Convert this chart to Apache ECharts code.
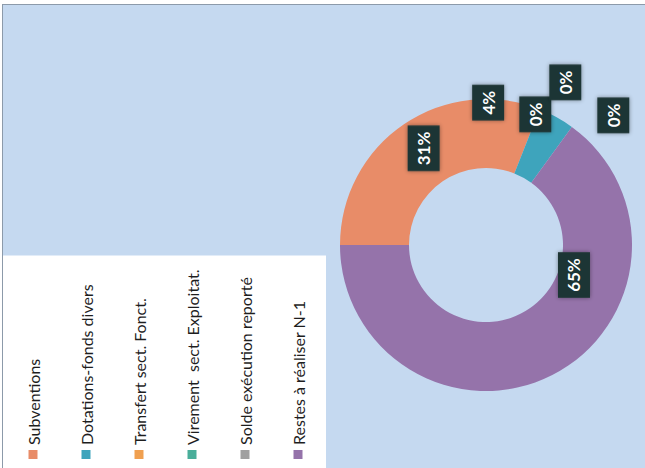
<!DOCTYPE html>
<html><head><meta charset="utf-8">
<script src="https://cdn.jsdelivr.net/npm/echarts@6/dist/echarts.min.js"></script>
<style>
html,body{margin:0;padding:0;width:645px;height:468px;overflow:hidden;background:#fff;}
#rot{position:absolute;left:0;top:0;width:468px;height:645px;transform-origin:0 0;transform:translate(0,468px) rotate(-90deg);background:#fff;}
#frame{position:absolute;left:0;top:2px;width:464px;height:643px;box-sizing:border-box;border-top:1px solid #8c9aaa;border-right:1px solid #8c9aaa;}
#chart{position:absolute;left:0;top:0;width:463px;height:642px;}
</style></head>
<body>
<div id="rot"><div id="frame"><div id="chart"></div></div></div>
<script>
const categories = ['Subventions','Dotations-fonds divers','Transfert sect. Fonct.','Virement  sect. Exploitat.','Solde exécution reporté','Restes à réaliser N-1'];
const shares = [31, 4, 0, 0, 0, 65];
const colors = ['#E88C68','#3EA4BC','#F0A050','#4AAE9A','#A0A0A0','#9573AA'];
const labelShift = [[2,2],[42,-53],[38,-18],[70,12],[37,60],[72,36]];

const chart = echarts.init(document.getElementById('chart'), null, {renderer:'svg'});
chart.setOption({
  backgroundColor:'#C5D9F0',
  color: colors,
  legend:{
    orient:'vertical', left:0, top:0,
    backgroundColor:'#FFFFFF',
    padding:[21,14,19,9],
    itemWidth:9, itemHeight:9, itemGap:35,
    icon:'rect',
    textStyle:{fontFamily:'Lato, sans-serif', fontSize:16, lineHeight:18, color:'#1e1e1e'},
    data: categories
  },
  series:[{
    type:'pie',
    center:[223,483],
    radius:[77,146],
    startAngle:90,
    clockwise:true,
    avoidLabelOverlap:false,
    silent:true,
    minShowLabelAngle:0,
    label:{
      show:true, position:'inside',
      formatter:'{d}%',
      color:'#fff', fontWeight:'bold', fontSize:17, lineHeight:20,
      fontFamily:'Lato, sans-serif',
      backgroundColor:'#1E3636', padding:[6,6],
      shadowColor:'rgba(0,0,0,0.4)', shadowBlur:4
    },
    labelLine:{show:false},
    labelLayout:function(p){ const s = labelShift[p.dataIndex]; return {dx:s[0], dy:s[1]}; },
    data: categories.map((n,i)=>({name:n, value:shares[i]}))
  }]
});
</script>
</body></html>
